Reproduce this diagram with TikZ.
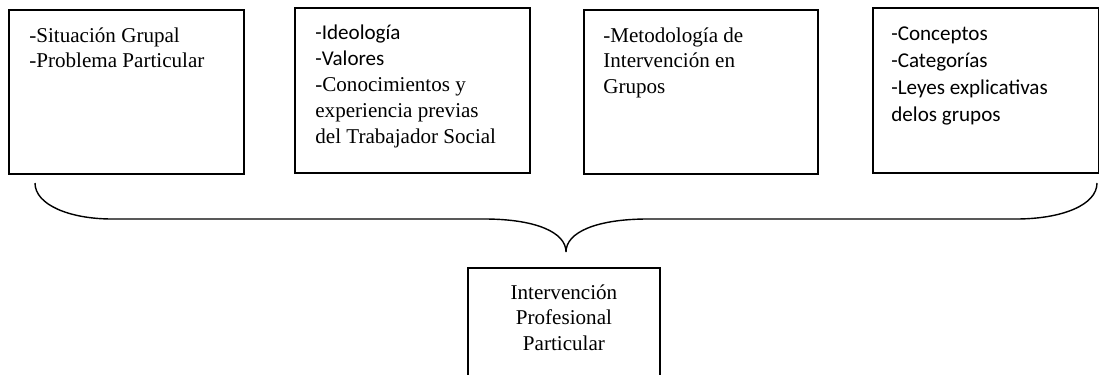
\documentclass[tikz,border=0pt]{standalone}
\usepackage{fontspec}
\setmainfont{Liberation Serif}
\newfontfamily\calibrifont{Carlito}
\usetikzlibrary{positioning}

\begin{document}
\begin{tikzpicture}[x=0.02cm,y=-0.02cm,
    box/.style={draw,line width=1.1pt,inner sep=0pt,anchor=north west},
    txt/.style={inner sep=0pt,anchor=north west,align=left,font=\fontsize{12}{14.7}\selectfont},
    brace/.style={line width=0.8pt}]
  \useasboundingbox (0,0) rectangle (1099,375);

  % Upper boxes
  \node[box,minimum width=4.7cm,minimum height=3.28cm] (grupo) at (8,9) {};
  \node[box,minimum width=4.7cm,minimum height=3.3cm] (valores) at (294,7) {};
  \node[box,minimum width=4.68cm,minimum height=3.28cm] (metodo) at (583,9) {};
  \node[box,minimum width=4.52cm,minimum height=3.3cm] (teoria) at (872,7) {};

  % Their texts
  \node[txt,below right=0.36cm and 0.42cm of grupo.north west] (grupotxt)
    {-Situación Grupal\\-Problema Particular};
  \node[txt,below right=0.36cm and 0.42cm of valores.north west] (valorestxt)
    {{\calibrifont -Ideología}\\{\calibrifont -Valores}\\-Conocimientos y\\experiencia previas\\del Trabajador Social};
  \node[txt,below right=0.36cm and 0.4cm of metodo.north west] (metodotxt)
    {-Metodología de\\Intervención en\\Grupos};
  \node[txt,below right=0.38cm and 0.38cm of teoria.north west,font=\calibrifont\fontsize{12}{15.4}\selectfont] (teoriatxt)
    {-Conceptos\\-Categorías\\-Leyes explicativas\\delos grupos};

  % Brace
  \coordinate (bl) at (35,183);
  \coordinate (br) at (1097,183);
  \coordinate (tip) at (566,252);
  \draw[brace] (bl) .. controls (35,205) and (70,219) .. (112,219) -- (484,219)
    .. controls (535,219) and (566,232) .. (tip)
    .. controls (566,232) and (597,219) .. (648,219) -- (1016,219)
    .. controls (1062,219) and (1097,205) .. (br);

  % Result box
  \node[box,minimum width=3.84cm,minimum height=2.6cm] (result) at (467,267) {};
  \node[txt,anchor=north,align=center,below=0.34cm of result.north] (resulttxt)
    {Intervención\\Profesional\\Particular};
\end{tikzpicture}
\end{document}
